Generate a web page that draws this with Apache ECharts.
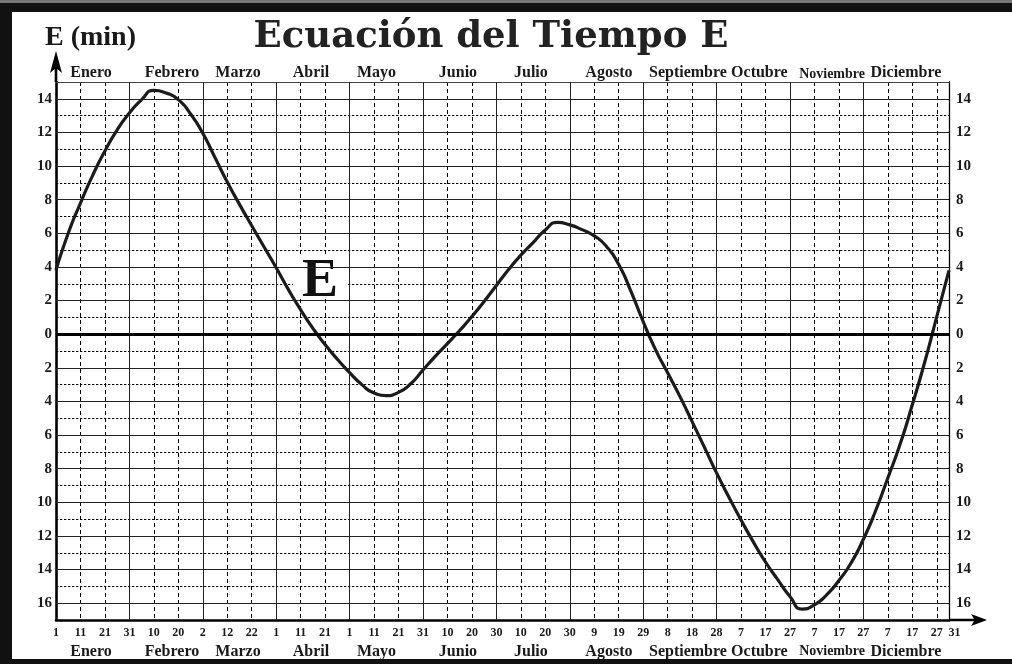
<!DOCTYPE html>
<html><head><meta charset="utf-8">
<script src="https://cdn.jsdelivr.net/npm/echarts@6/dist/echarts.min.js"></script>
<style>html,body{margin:0;padding:0;background:#fff}#c{width:1012px;height:664px}</style>
</head><body><div id="c"></div>
<script>
// ---- data ----
const dayTicks = [0,10,20,30,40,50,60,70,80,90,100,110,120,130,140,150,160,170,180,190,200,210,220,230,240,250,260,270,280,290,300,310,320,330,340,350,360,365];
const dayLabels = ['1','11','21','31','10','20','2','12','22','1','11','21','1','11','21','31','10','20','30','10','20','30','9','19','29','8','18','28','7','17','27','7','17','27','7','17','27','31'];
const months = ['Enero','Febrero','Marzo','Abril','Mayo','Junio','Julio','Agosto','Septiembre','Octubre','Noviembre','Diciembre'];
const monthDays = [14.3, 47.4, 74.4, 104.2, 131, 164.3, 194.1, 226, 258.3, 287.5, 317.2, 347.4];
const curveDays = [0,5,10,15,20,25,30,35,40,45,50,55,60,65,70,75,80,85,90,95,100,105,110,115,120,125,130,135,140,145,150,155,160,165,170,175,180,185,190,195,200,205,210,215,220,225,230,235,240,245,250,255,260,265,270,275,280,285,290,295,300,305,310,315,320,325,330,335,340,345,350,355,360,365];
const curveValues = [3.8,6.0,7.8,9.45,10.9,12.15,13.15,13.95,14.5,14.35,13.95,13.1,11.95,10.5,9.05,7.72,6.45,5.2,3.95,2.65,1.45,0.35,-0.62,-1.49,-2.28,-3.0,-3.5,-3.65,-3.46,-2.95,-2.13,-1.32,-0.56,0.22,1.05,1.95,2.9,3.85,4.7,5.45,6.2,6.65,6.5,6.22,5.85,5.22,4.15,2.55,0.75,-0.9,-2.3,-3.7,-5.2,-6.72,-8.25,-9.68,-11.05,-12.35,-13.55,-14.6,-15.6,-16.35,-16.1,-15.5,-14.65,-13.6,-12.2,-10.5,-8.55,-6.55,-4.2,-1.7,1.05,3.8];
const evenLevels = [-16,-14,-12,-10,-8,-6,-4,-2,2,4,6,8,10,12,14];
const solidDays = [30,60,90,120,150,180,210,240,270,300,330];

// ---- chart ----
const FONT = 'Liberation Serif';
const INK = '#1a1a1a';
const chart = echarts.init(document.getElementById('c'), null, {renderer: 'canvas'});

function nearestIdx(arr, v) {
  let b = 0, bd = Infinity;
  arr.forEach((a, i) => { const d = Math.abs(a - v); if (d < bd) { bd = d; b = i; } });
  return b;
}
const yFmt = v => { const r = Math.round(v); return (r % 2 === 0 && r > -17 && r < 15) ? String(Math.abs(r)) : ''; };
const dayFmt = v => { const i = nearestIdx(dayTicks, v); return i === dayTicks.length - 1 ? '{e|' + dayLabels[i] + '}' : dayLabels[i]; };
const monthFmt = v => { const m = months[nearestIdx(monthDays, v)]; return m === 'Noviembre' ? '{s|' + m + '}' : m; };
const monthRich = { s: { fontFamily: FONT, fontWeight: 'bold', fontSize: 14, color: INK } };

const yArrow = 'path://M6 0L12 22L7.3 18L7.3 31L4.7 31L4.7 18L0 22Z';
const xArrow = 'path://M6 0L12 16L7.3 13L7.3 38L4.7 38L4.7 13L0 16Z';

const option = {
  backgroundColor: '#fff',
  animation: false,
  grid: { left: 56, top: 82, width: 893, height: 538, containLabel: false },
  xAxis: [
    { type: 'value', min: 0, max: 365, interval: 10, position: 'bottom',
      axisLine: { show: true, onZero: false, lineStyle: { color: '#000', width: 2.6 }, symbol: ['none', xArrow], symbolSize: [12, 38], symbolOffset: [0, 19] },
      axisTick: { show: false },
      axisLabel: { customValues: dayTicks, formatter: dayFmt, showMinLabel: true, showMaxLabel: true,
        rich: { e: { fontFamily: FONT, fontWeight: 'bold', fontSize: 12, color: INK, padding: [0, 0, 0, 11] } },
        margin: 7, fontFamily: FONT, fontWeight: 'bold', fontSize: 12, color: INK },
      splitLine: { show: true, lineStyle: { color: '#000', width: 1, type: [4, 3] } } },
    { type: 'value', min: 0, max: 365, position: 'bottom',
      axisLine: { show: false }, axisTick: { show: false }, splitLine: { show: false },
      axisLabel: { customValues: monthDays, formatter: monthFmt, rich: monthRich, margin: 24, fontFamily: FONT, fontWeight: 'bold', fontSize: 16, color: INK } },
    { type: 'value', min: 0, max: 365, position: 'top',
      axisLine: { show: true, onZero: false, lineStyle: { color: '#444', width: 1 } }, axisTick: { show: false }, splitLine: { show: false },
      axisLabel: { customValues: monthDays, formatter: monthFmt, rich: monthRich, margin: 1, fontFamily: FONT, fontWeight: 'bold', fontSize: 16, color: INK } }
  ],
  yAxis: [
    { type: 'value', min: -17, max: 15, interval: 1, position: 'left',
      axisLine: { show: true, onZero: false, lineStyle: { color: '#000', width: 2.6 }, symbol: ['none', yArrow], symbolSize: [12, 31], symbolOffset: [0, 15.5] },
      axisTick: { show: false },
      axisLabel: { formatter: yFmt, margin: 4, fontFamily: FONT, fontWeight: 'bold', fontSize: 15, color: INK },
      splitLine: { show: true, lineStyle: { color: '#000', width: 1, type: [2.3, 1.7] } } },
    { type: 'value', min: -17, max: 15, interval: 1, position: 'right',
      axisLine: { show: true, onZero: false, lineStyle: { color: '#000', width: 1.3 } },
      axisTick: { show: false },
      axisLabel: { formatter: yFmt, margin: 7, fontFamily: FONT, fontWeight: 'bold', fontSize: 15, color: INK },
      splitLine: { show: false } }
  ],
  series: [
    { type: 'line', name: 'grid', data: [], silent: true, z: 2, xAxisIndex: 0, yAxisIndex: 0,
      markLine: { silent: true, symbol: ['none', 'none'], label: { show: false }, animation: false,
        lineStyle: { color: '#222', width: 1, type: 'solid' },
        data: evenLevels.map(v => ({ yAxis: v }))
          .concat(solidDays.map(d => ({ xAxis: d })))
          .concat([{ yAxis: 0, lineStyle: { color: '#000', width: 3, type: 'solid' } }]) } },
    { type: 'scatter', name: 'Elabel', silent: true, z: 3, xAxisIndex: 0, yAxisIndex: 0,
      data: [[107.9, 3.46]], symbol: 'rect', symbolSize: [54, 40], itemStyle: { color: '#fff', opacity: 1 },
      label: { show: true, formatter: 'E', position: 'inside', offset: [0, 6], fontFamily: FONT, fontWeight: 'bold', fontSize: 54, color: '#111' } },
    { type: 'line', name: 'E', z: 4, xAxisIndex: 0, yAxisIndex: 0, smooth: 0.6, showSymbol: false, symbol: 'none',
      data: curveDays.map((d, i) => [d, curveValues[i]]),
      lineStyle: { color: '#1b1b1b', width: 3.2 } }
  ],
  graphic: [
    { type: 'rect', shape: { x: 0, y: 0, width: 1012, height: 12 }, style: { fill: '#111' }, z: 100 },
    { type: 'rect', shape: { x: 0, y: 0, width: 1012, height: 3 }, style: { fill: '#777' }, z: 101 },
    { type: 'rect', shape: { x: 0, y: 0, width: 12, height: 664 }, style: { fill: '#111' }, z: 100 },
    { type: 'rect', shape: { x: 0, y: 659, width: 1012, height: 5 }, style: { fill: '#111' }, z: 100 },
    { type: 'text', x: 491, y: 37, style: { text: 'Ecuación del Tiempo E', fontFamily: 'DejaVu Serif', fontWeight: 'bold', fontSize: 37, fill: '#222', align: 'center', verticalAlign: 'middle' }, z: 100 },
    { type: 'text', x: 45, y: 38, style: { text: 'E (min)', fontFamily: FONT, fontWeight: 'bold', fontSize: 28, fill: INK, align: 'left', verticalAlign: 'middle' }, z: 100 }
  ]
};
chart.setOption(option);
</script></body></html>
